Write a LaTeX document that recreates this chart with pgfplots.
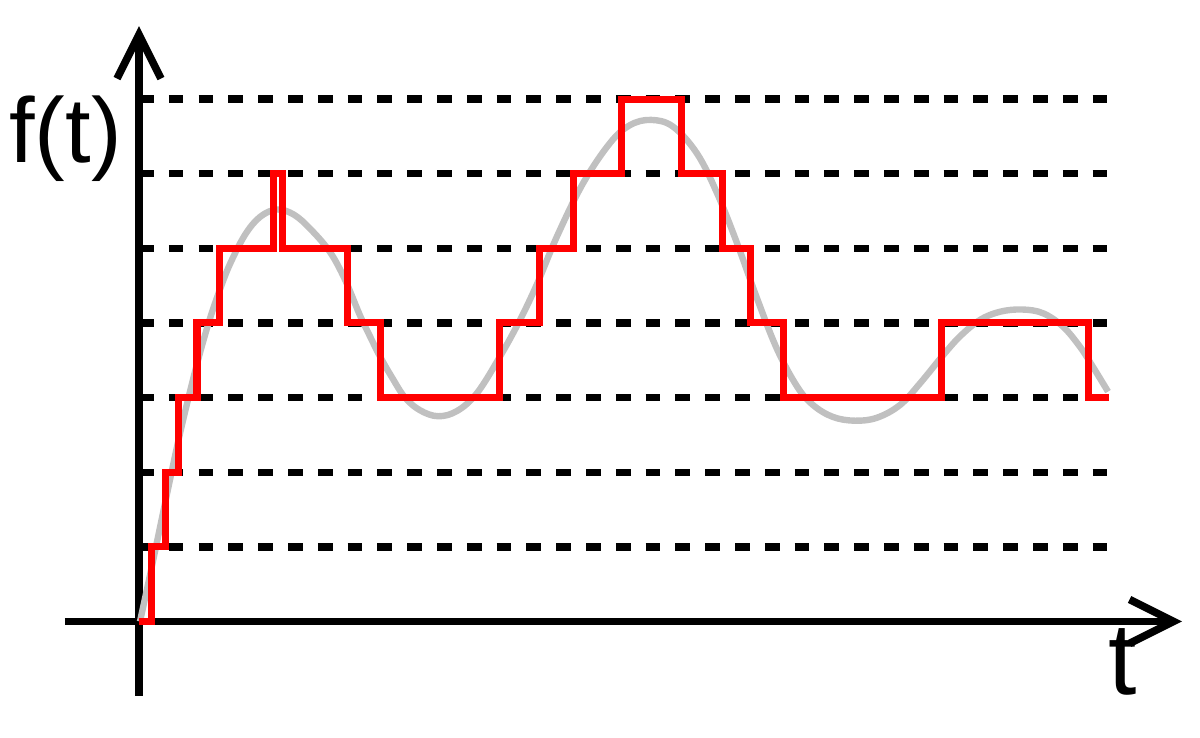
\documentclass[border=0pt]{standalone}
\usepackage{pgfplots}
\pgfplotsset{compat=1.18}
\usepackage{fontspec}
\setmainfont{Liberation Sans}
\usetikzlibrary{arrows.meta}
\definecolor{sig}{RGB}{192,192,192}
\definecolor{qred}{RGB}{255,0,0}
\begin{document}
\begin{tikzpicture}
\begin{axis}[
  x=0.5pt, y=37.32pt,
  xmin=-74, xmax=1043, ymin=-0.998, ymax=7.978,
  axis lines=middle,
  axis line style={line width=3.8pt, line cap=butt, -{Straight Barb[length=22pt,width=22pt]}},
  xtick=\empty, ytick=\empty,
  clip=false,
]
\addplot[black, line width=3.7pt, dash pattern=on 7.35pt off 7.55pt, forget plot] coordinates {(0,1) (970,1)};
\addplot[black, line width=3.7pt, dash pattern=on 7.35pt off 7.55pt, forget plot] coordinates {(0,2) (970,2)};
\addplot[black, line width=3.7pt, dash pattern=on 7.35pt off 7.55pt, forget plot] coordinates {(0,3) (970,3)};
\addplot[black, line width=3.7pt, dash pattern=on 7.35pt off 7.55pt, forget plot] coordinates {(0,4) (970,4)};
\addplot[black, line width=3.7pt, dash pattern=on 7.35pt off 7.55pt, forget plot] coordinates {(0,5) (970,5)};
\addplot[black, line width=3.7pt, dash pattern=on 7.35pt off 7.55pt, forget plot] coordinates {(0,6) (970,6)};
\addplot[black, line width=3.7pt, dash pattern=on 7.35pt off 7.55pt, forget plot] coordinates {(0,7) (970,7)};
% analogue signal
\addplot[sig, line width=3.2pt, smooth, tension=0.6] coordinates {
(1,0) (11,0.62) (21,1.26) (31,1.9) (41,2.52) (51,3.08) (61,3.6) (71,4.06) (81,4.45) (91,4.79)
(106,5.18) (121,5.42) (138,5.52) (155,5.45) (172,5.25) (191,4.95) (206,4.58) (221,4.1)
(231,3.82) (241,3.55) (253,3.27) (266,3.0) (281,2.83) (299,2.75) (318,2.82) (338,3.06)
(361,3.55) (381,4.04) (398,4.52) (418,5.16) (444,5.87) (471,6.41) (491,6.65) (512,6.72)
(534,6.63) (558,6.27) (578,5.74) (598,5.07) (618,4.33) (638,3.65) (658,3.15) (674,2.90)
(694,2.74) (716,2.69) (738,2.73) (761,2.90) (781,3.19) (803,3.55) (821,3.82) (841,4.04)
(861,4.15) (883,4.18) (904,4.13) (924,3.95) (941,3.68) (954,3.41) (969,3.08)};
% quantised signal
\addplot[qred, line width=3.5pt, const plot, line join=miter, line cap=butt] coordinates {
(0,0) (13,1) (27,2) (40,3) (58,4) (80,5) (134,6) (143,5) (208,4) (241,3) (360,4) (400,5)
(434,6) (482,7) (542,6) (583,5) (611,4) (644,3) (802,4) (949,3) (970,3)};
\node[anchor=base, inner sep=0pt, font=\fontsize{46}{52}\selectfont] at (axis cs:-73.5,6.15) {f(t)};
\node[anchor=base, inner sep=0pt, font=\fontsize{51}{60}\selectfont] at (axis cs:983.5,-0.98) {t};
\coordinate (bbll) at (axis cs:-139,-1.5539);
\coordinate (bbur) at (axis cs:1061,8.3266);
\end{axis}
\pgfresetboundingbox
\path[use as bounding box] (bbll) rectangle (bbur);
\end{tikzpicture}
\end{document}
